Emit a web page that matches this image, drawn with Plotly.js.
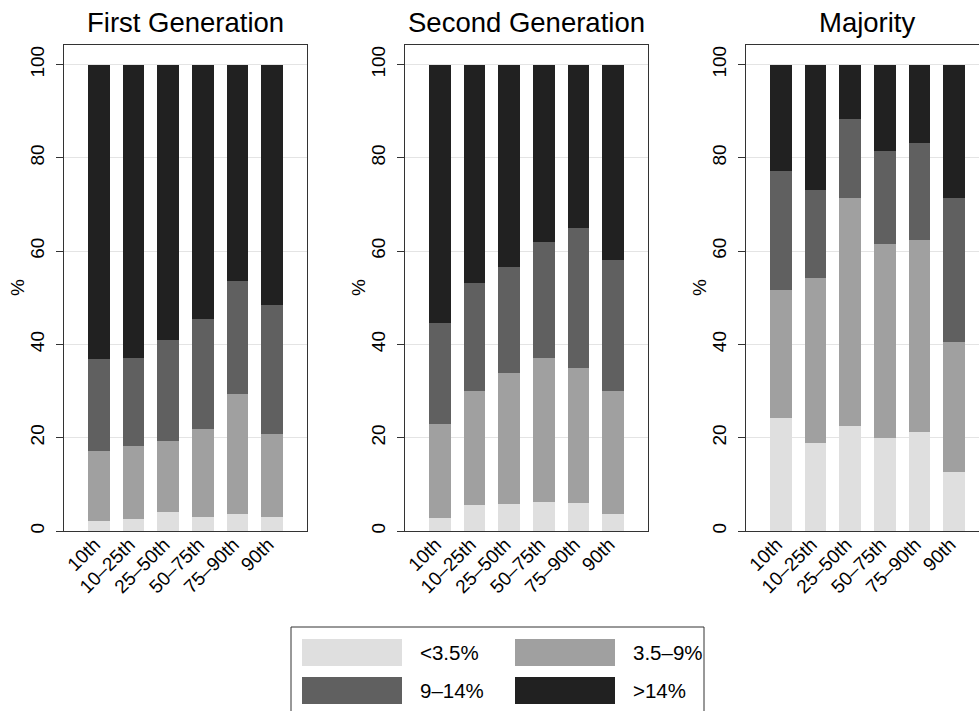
<!DOCTYPE html>
<html>
<head>
<meta charset="utf-8">
<script src="https://cdn.plot.ly/plotly-3.0.1.min.js"></script>
<style>
html,body{margin:0;padding:0;overflow:hidden;background:#fff;}
#chart{width:990px;height:711px;}
</style>
</head>
<body>
<div id="chart"></div>
<script>
// ---- data ----
const categories = ["10th", "10–25th", "25–50th", "50–75th", "75–90th", "90th"];
const panelTitles = ["First Generation", "Second Generation", "Majority"];
const yAxisTitle = "%";
const seriesNames = ["<3.5%", "3.5–9%", "9–14%", ">14%"];
const seriesColors = ["#dfdfdf", "#a0a0a0", "#606060", "#212121"];

const firstGen_lt35   = [2.1, 2.6, 4.1, 3.1, 3.6, 3.0];
const firstGen_35to9  = [15.1, 15.6, 15.3, 18.8, 25.8, 17.9];
const firstGen_9to14  = [19.7, 18.8, 21.6, 23.5, 24.1, 27.6];
const firstGen_gt14   = [63.1, 63.0, 59.0, 54.6, 46.5, 51.5];

const secondGen_lt35  = [2.8, 5.6, 5.7, 6.3, 6.1, 3.7];
const secondGen_35to9 = [20.2, 24.5, 28.2, 30.9, 28.8, 26.3];
const secondGen_9to14 = [21.7, 23.0, 22.7, 24.8, 30.0, 28.0];
const secondGen_gt14  = [55.3, 46.9, 43.4, 38.0, 35.1, 42.0];

const majority_lt35   = [24.3, 18.9, 22.5, 19.9, 21.2, 12.7];
const majority_35to9  = [27.3, 35.3, 48.8, 41.6, 41.2, 27.9];
const majority_9to14  = [25.6, 19.0, 17.0, 20.0, 20.8, 30.8];
const majority_gt14   = [22.8, 26.8, 11.7, 18.5, 16.8, 28.6];

const yTickVals = [0, 20, 40, 60, 80, 100];

const panels = [
  [firstGen_lt35, firstGen_35to9, firstGen_9to14, firstGen_gt14],
  [secondGen_lt35, secondGen_35to9, secondGen_9to14, secondGen_gt14],
  [majority_lt35, majority_35to9, majority_9to14, majority_gt14]
];

// ---- layout geometry (pixels) ----
const W = 990, H = 711;
const px = v => v / W;
const py = v => 1 - v / H;
const panelLeft = [64, 405, 746];
const panelWidth = 243;
const plotTop = 45, plotBottom = 531;
const FONT = "Liberation Sans, Arial, Helvetica, sans-serif";

const traces = [];
panels.forEach((series, p) => {
  const suffix = p === 0 ? "" : String(p + 1);
  series.forEach((vals, s) => {
    traces.push({
      type: "bar",
      x: categories,
      y: vals,
      name: seriesNames[s],
      marker: {color: seriesColors[s], line: {width: 0}},
      width: 0.625,
      xaxis: "x" + suffix,
      yaxis: "y" + suffix,
      showlegend: false,
      hoverinfo: "x+y+name"
    });
  });
});

const layout = {
  width: W, height: H,
  margin: {l: 0, r: 0, t: 0, b: 0, pad: 0},
  paper_bgcolor: "#ffffff",
  plot_bgcolor: "#ffffff",
  barmode: "stack",
  font: {family: FONT, size: 18, color: "#000"},
  annotations: [],
  shapes: []
};

panels.forEach((series, p) => {
  const suffix = p === 0 ? "" : String(p + 1);
  const xa = "xaxis" + suffix, ya = "yaxis" + suffix;
  layout[xa] = {
    domain: [px(panelLeft[p]), px(panelLeft[p] + panelWidth)],
    anchor: "y" + suffix,
    type: "category",
    range: [-1, 6],
    showline: true, mirror: true, linecolor: "#333", linewidth: 1,
    ticks: "", showgrid: false, zeroline: false,
    tickangle: -45,
    ticklabelstandoff: -6,
    ticklabelshift: -4,
    tickfont: {family: FONT, size: 19, color: "#000"},
    fixedrange: true
  };
  layout[ya] = {
    domain: [py(plotBottom), py(plotTop)],
    anchor: "x" + suffix,
    range: [0, 104.2],
    tickvals: yTickVals,
    ticktext: yTickVals.map(String),
    showline: true, mirror: true, linecolor: "#333", linewidth: 1,
    ticks: "outside", ticklen: 7, tickcolor: "#333", tickwidth: 1,
    tickangle: -90,
    ticklabelstandoff: 4,
    tickfont: {family: FONT, size: 19, color: "#000"},
    showgrid: true, gridcolor: "#e4e4e4", gridwidth: 1,
    zeroline: false,
    automargin: false,
    fixedrange: true
  };
  // y axis title
  layout.annotations.push({
    text: yAxisTitle,
    xref: "paper", yref: "paper",
    x: px(panelLeft[p] - 46), y: py((plotTop + plotBottom) / 2),
    xanchor: "center", yanchor: "middle",
    textangle: -90,
    showarrow: false,
    font: {family: FONT, size: 19, color: "#000"}
  });
  // panel title
  layout.annotations.push({
    text: panelTitles[p],
    xref: "paper", yref: "paper",
    x: px(panelLeft[p] + panelWidth / 2), y: py(23),
    xanchor: "center", yanchor: "middle",
    showarrow: false,
    font: {family: FONT, size: 27.5, color: "#000"}
  });
});

// ---- legend (drawn manually, 2 columns) ----
layout.shapes.push({
  type: "rect", xref: "paper", yref: "paper",
  x0: px(291), x1: px(704), y0: py(720), y1: py(627),
  line: {color: "#333", width: 1}, fillcolor: "rgba(0,0,0,0)", layer: "above"
});
const legCols = [302, 515], legRows = [639, 677], swW = 100, swH = 27, textGap = 16;
seriesNames.forEach((name, i) => {
  const c = i % 2, r = Math.floor(i / 2);
  const x0 = legCols[c], y0 = legRows[r];
  layout.shapes.push({
    type: "rect", xref: "paper", yref: "paper",
    x0: px(x0), x1: px(x0 + swW), y0: py(y0 + swH), y1: py(y0),
    line: {width: 0}, fillcolor: seriesColors[i]
  });
  layout.annotations.push({
    text: name,
    xref: "paper", yref: "paper",
    x: px(x0 + swW + textGap), y: py(y0 + swH / 2),
    xanchor: "left", yanchor: "middle",
    showarrow: false,
    font: {family: FONT, size: 20.5, color: "#000"}
  });
});

Plotly.newPlot("chart", traces, layout, {displayModeBar: false, staticPlot: true});
</script>
</body>
</html>
